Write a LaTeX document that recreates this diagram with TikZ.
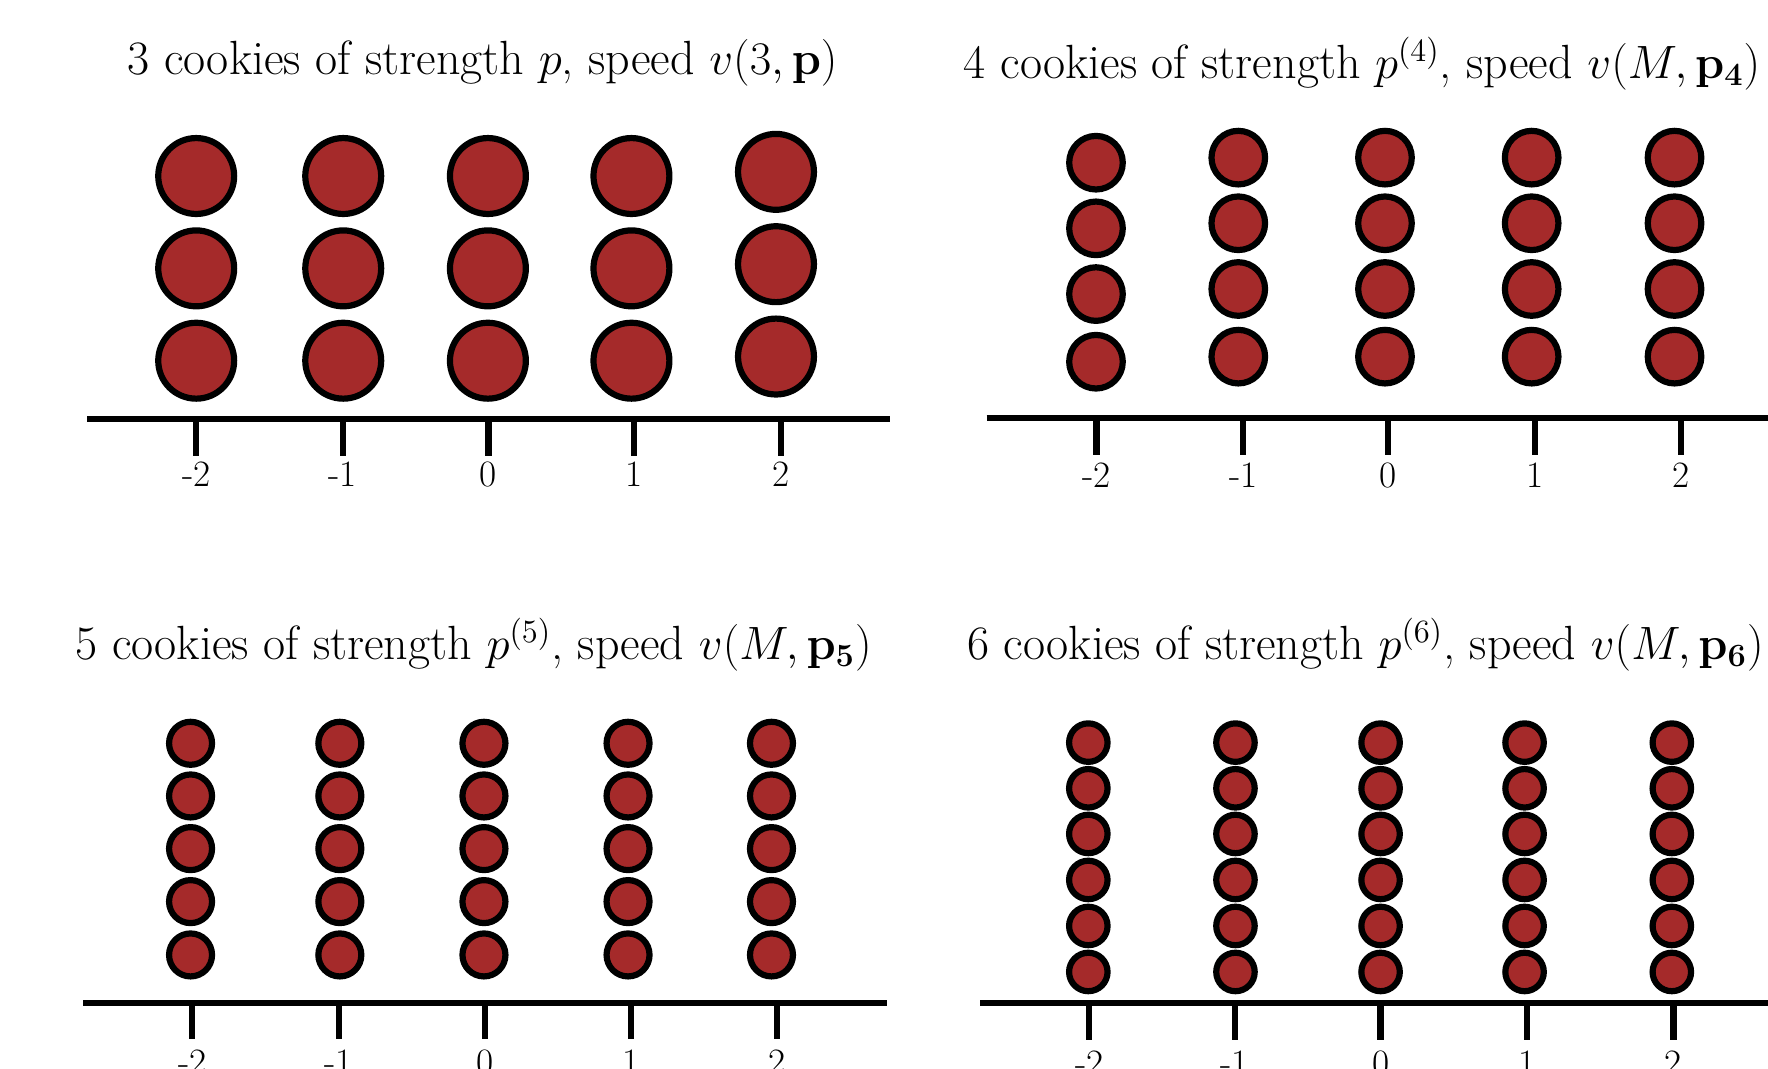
\documentclass[tikz,border=0pt]{standalone}
\definecolor{cookiered}{HTML}{A52A2A}
\tikzset{
  cookie/.style={fill=cookiered, draw=black, line width=2.75pt},
  axisline/.style={line width=2.7pt},
  tickline/.style={line width=2.75pt},
  titlelabel/.style={anchor=base, inner sep=0pt, font=\fontsize{21.3}{25}\selectfont},
  ticklabel/.style={anchor=base, inner sep=0pt, font=\fontsize{16.5}{19}\selectfont},
}
\begin{document}
\begin{tikzpicture}[x=0.5pt,y=-0.5pt]
\useasboundingbox (0,0) rectangle (1568,948);
\clip (0,0) rectangle (1568,948);

% ---------- Panel A: 3 cookies ----------
\node[titlelabel] (titleA) at (428,66.5) {3 cookies of strength $p$, speed $v(3,\mathbf{p})$};
\foreach \x/\d in {174/0,304.4/0,432.7/0,560/0,688.2/-3.7}
  \foreach \y in {156.1,238,319.9}
    \filldraw[cookie] (\x,{\y+\d}) circle[radius=16.83pt];
\draw[axisline] (77.5,371.9) -- (789.5,371.9);
\foreach \x/\l [count=\i] in {174.1/-2,303.9/-1,433.2/0,562.6/1,692.4/2} {
  \draw[tickline] (\x,371.9) -- (\x,404);
  \node[ticklabel] (labA\i) at (\x,431.8) {\l};
}

% ---------- Panel B: 4 cookies ----------
\node[titlelabel] (titleB) at (1208,69.5) {4 cookies of strength $p^{(4)}$, speed $v(M,\mathbf{p_4})$};
\foreach \x/\d in {972/4.5,1098.2/0,1228.3/0,1358.4/0,1485.1/0}
  \foreach \y in {139.8,198,256.3,316.3}
    \filldraw[cookie] (\x,{\y+\d}) circle[radius=11.88pt];
\draw[axisline] (875,371) -- (1570,371);
\foreach \x/\l [count=\i] in {972.5/-2,1102.6/-1,1231.3/0,1361.4/1,1490.5/2} {
  \draw[tickline] (\x,371) -- (\x,403.5);
  \node[ticklabel] (labB\i) at (\x,432.5) {\l};
}

% ---------- Panel C: 5 cookies ----------
\node[titlelabel] (titleC) at (420,585.3) {5 cookies of strength $p^{(5)}$, speed $v(M,\mathbf{p_5})$};
\foreach \x in {169,301.4,429.2,557,684.2}
  \foreach \y in {659.2,705.9,752.6,799.6,846.9}
    \filldraw[cookie] (\x,\y) circle[radius=9.53pt];
\draw[axisline] (73.8,889.2) -- (786.5,889.2);
\foreach \x/\l [count=\i] in {170.5/-2,300.4/-1,430.2/0,559.5/1,688.8/2} {
  \draw[tickline] (\x,889.2) -- (\x,921.7);
  \node[ticklabel] (labC\i) at (\x,953) {\l};
}

% ---------- Panel D: 6 cookies ----------
\node[titlelabel] (titleD) at (1211,585.3) {6 cookies of strength $p^{(6)}$, speed $v(M,\mathbf{p_6})$};
\foreach \x in {965.2,1095.7,1224.4,1352.1,1482.7}
  \foreach \y in {658.6,699.1,739.6,780.4,821.2,862}
    \filldraw[cookie] (\x,\y) circle[radius=8.53pt];
\draw[axisline] (869.4,889.8) -- (1570,889.8);
\foreach \x/\l [count=\i] in {966.1/-2,1095.2/-1,1224.4/0,1354/1,1484.1/2} {
  \draw[tickline] (\x,889.8) -- (\x,922);
  \node[ticklabel] (labD\i) at (\x,953.5) {\l};
}
\end{tikzpicture}
\end{document}
